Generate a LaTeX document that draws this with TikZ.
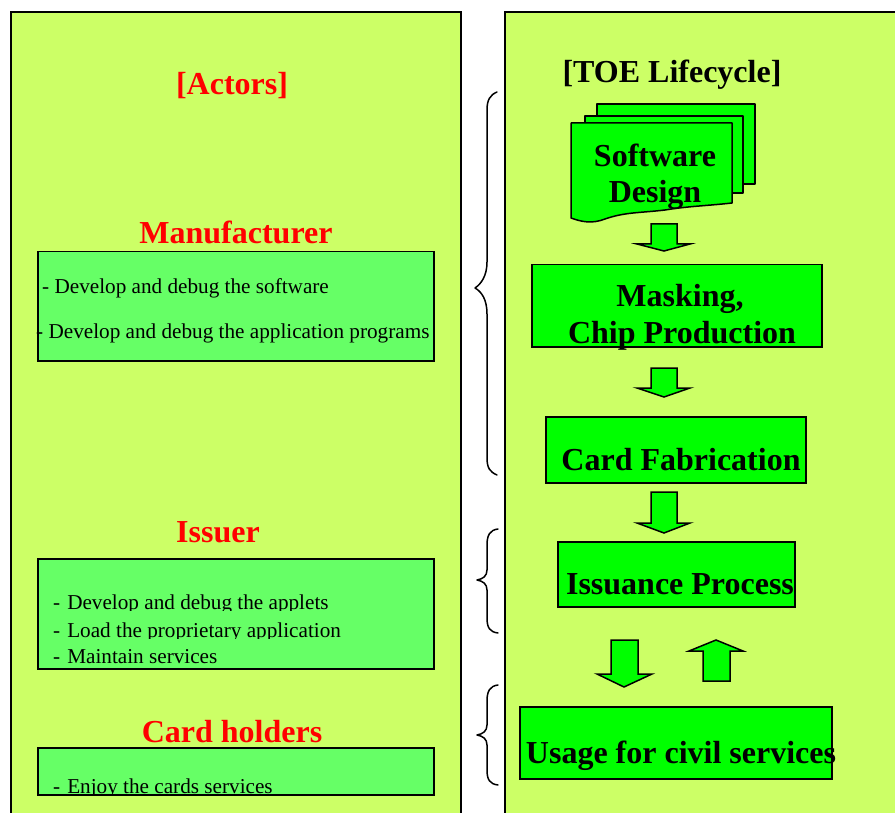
\documentclass[tikz,border=0pt]{standalone}
\usepackage{fontspec}
\setmainfont{Liberation Serif}
\definecolor{panel}{HTML}{CCFF66}
\definecolor{lbox}{HTML}{66FF66}
\definecolor{rbox}{HTML}{00FF00}
\definecolor{tred}{HTML}{FF0000}
\begin{document}
\begin{tikzpicture}[x=1pt,y=-1pt,
 panelbox/.style={draw=black,line width=1.5pt,fill=panel},
 actbox/.style={draw=black,line width=1.5pt,fill=lbox,inner sep=0pt,anchor=north west},
 stagebox/.style={draw=black,line width=1.5pt,fill=rbox,inner sep=0pt,anchor=north west},
 pagestyle/.style={draw=black,line width=1.5pt,fill=rbox,line join=round},
 title/.style={font=\fontsize{32}{36}\selectfont\bfseries,text=tred,inner sep=0pt,anchor=base},
 stagetext/.style={font=\fontsize{32}{36}\selectfont\bfseries,inner sep=0pt,anchor=base},
 itemtext/.style={font=\fontsize{21.2}{25}\selectfont,inner sep=0pt,anchor=base west},
 blockarrow/.style={draw=black,line width=1.5pt,fill=rbox,line join=miter},
 bracestyle/.style={draw=black,line width=1.5pt,line cap=round,line join=round}]
\useasboundingbox (0,0) rectangle (895,813);
\clip (0,0) rectangle (895,813);
\fill[white] (0,0) rectangle (895,813);
% panels
\draw[panelbox] (11,12) rectangle (461,830);
\draw[panelbox] (505,12) rectangle (910,830);

% ---------- left: actors ----------
\node[title] (actors) at (232,95) {[Actors]};
\node[title] (manu) at (236,244) {Manufacturer};
\node[actbox, minimum width=396pt, minimum height=109pt] (mbox) at (37,251) {};
\node[itemtext] (m1) at (42,294) {- Develop and debug the software};
\node[itemtext] (m2) at (36,338) {- Develop and debug the application programs};

\node[title] (issuer) at (218,542) {Issuer};
\node[actbox, minimum width=396pt, minimum height=110pt] (ibox) at (37,558) {};
\begin{scope}
\clip (38,559) rectangle (432,610);
\node[itemtext] (i1) at (53,609) {-\hspace{7pt}Develop and debug the applets};
\end{scope}
\begin{scope}
\clip (38,613) rectangle (432,638);
\node[itemtext] (i2) at (53,637) {-\hspace{7pt}Load the proprietary application};
\end{scope}
\node[itemtext] (i3) at (53,663) {-\hspace{7pt}Maintain services};

\node[title] (holders) at (232,742) {Card holders};
\node[actbox, minimum width=396pt, minimum height=47pt] (hbox) at (37,747) {};
\begin{scope}
\clip (38,748) rectangle (432,793);
\node[itemtext] (h1) at (53,793) {-\hspace{7pt}Enjoy the cards services};
\end{scope}

% ---------- braces ----------
\draw[bracestyle] (497,92) .. controls (490,95) and (487,100) .. (487,110) -- (487,262)
  .. controls (487,276) and (481,284) .. (475,288) .. controls (482,292) and (487,300) .. (487,314)
  -- (487,458) .. controls (487,468) and (490,472) .. (497,475);
\draw[bracestyle] (498,529) .. controls (490,530) and (487,535) .. (487,545) -- (487,570)
  .. controls (487,576) and (483,579) .. (477,580) .. controls (483,581) and (487,584) .. (487,590)
  -- (487,618) .. controls (487,628) and (490,632) .. (498,633);
\draw[bracestyle] (498,685) .. controls (490,686) and (487,691) .. (487,701) -- (487,725)
  .. controls (487,731) and (483,734) .. (477,735) .. controls (483,736) and (487,739) .. (487,745)
  -- (487,770) .. controls (487,780) and (490,784) .. (498,785);

% ---------- right: lifecycle ----------
\node[stagetext] (toe) at (672,83) {[TOE Lifecycle]};

% software design (multi-document)
\draw[pagestyle] (597,104) rectangle (755,184);
\draw[pagestyle] (585,116) rectangle (743,193);
\draw[pagestyle] (571,123) -- (732,123) -- (732,203)
  .. controls (705,206) and (690,206) .. (665,210)
  .. controls (640,213) and (625,212) .. (605,219)
  .. controls (592,224) and (582,222) .. (571,218) -- cycle;
\node[stagetext] (sd1) at (655,167) {Software};
\node[stagetext] (sd2) at (655,203) {Design};

\draw[blockarrow] (651,224) -- (677,224) -- (677,244) -- (690,244) -- (664,251) -- (637,244) -- (651,244) -- cycle;

\node[stagebox, minimum width=290pt, minimum height=82pt] (mask) at (531,264) {};
\node[stagetext] (mk1) at (680,307) {Masking,};
\node[stagetext] (mk2) at (682,343) {Chip Production};

\draw[blockarrow] (651,368) -- (677,368) -- (677,388) -- (690,388) -- (664,397) -- (637,388) -- (651,388) -- cycle;

\node[stagebox, minimum width=260pt, minimum height=66pt] (fab) at (545,416) {};
\node[stagetext] (fabt) at (681,470) {Card Fabrication};

\draw[blockarrow] (651,492) -- (677,492) -- (677,523) -- (690,523) -- (664,533) -- (637,523) -- (651,523) -- cycle;

\node[stagebox, minimum width=237pt, minimum height=65pt] (iss) at (557,541) {};
\node[stagetext] (isst) at (680,594) {Issuance Process};

\draw[blockarrow] (611,640) -- (638,640) -- (638,674) -- (652,674) -- (624,687) -- (597,674) -- (611,674) -- cycle;
\draw[blockarrow] (703,681) -- (730,681) -- (730,651) -- (743,651) -- (716,640) -- (689,651) -- (703,651) -- cycle;

\node[stagebox, minimum width=312pt, minimum height=72pt] (use) at (519,706) {};
\node[stagetext] (uset) at (681,763) {Usage for civil services};
\end{tikzpicture}
\end{document}
